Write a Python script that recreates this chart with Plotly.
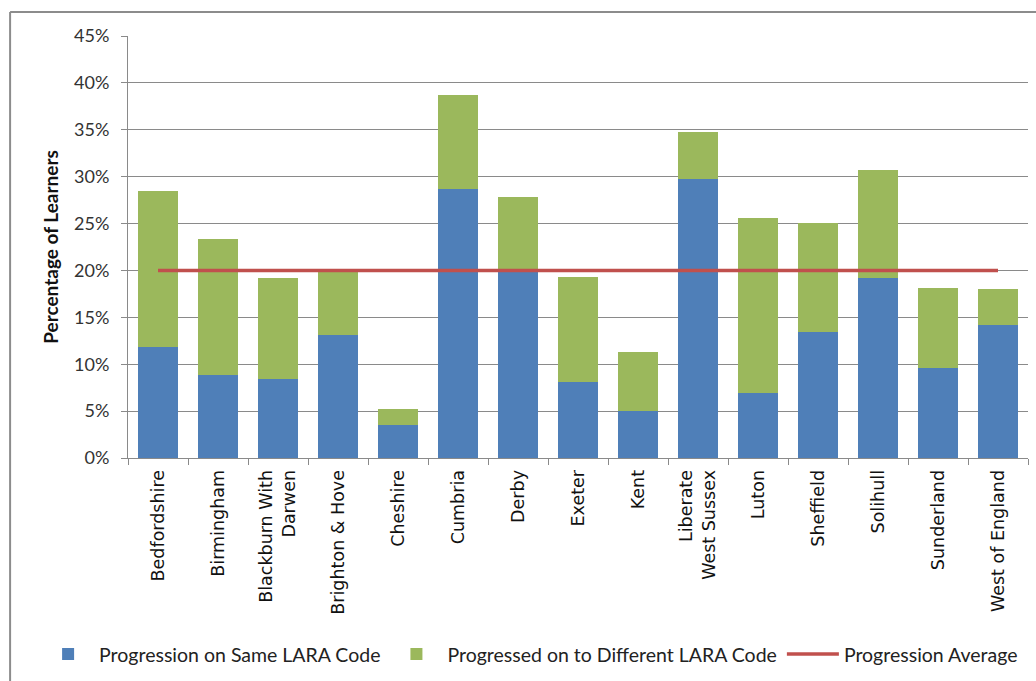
import plotly.graph_objects as go

# Progression by area (percentage of learners)
areas = [
    "Bedfordshire", "Birmingham", "Blackburn With<br>Darwen", "Brighton & Hove",
    "Cheshire", "Cumbria", "Derby", "Exeter", "Kent", "Liberate<br>West Sussex",
    "Luton", "Sheffield", "Solihull", "Sunderland", "West of England",
]
same_code = [11.8, 8.9, 8.4, 13.1, 3.5, 28.7, 19.9, 8.1, 5.0, 29.7, 6.9, 13.4, 19.2, 9.6, 14.2]
different_code = [16.7, 14.5, 10.8, 6.9, 1.7, 10.0, 7.9, 11.2, 6.3, 5.1, 18.7, 11.7, 11.5, 8.5, 3.8]
progression_average = [20.0] * len(areas)

y_ticks = [0, 5, 10, 15, 20, 25, 30, 35, 40, 45]
y_tick_labels = ["0%", "5%", "10%", "15%", "20%", "25%", "30%", "35%", "40%", "45%"]

BLUE = "#4F7FB8"
GREEN = "#9BB85C"
RED = "#C0504D"
GRID = "#8A8A8A"
FONT = "Lato"

fig = go.Figure()
fig.add_trace(go.Bar(
    x=areas, y=same_code, name="Progression on Same LARA Code",
    marker=dict(color=BLUE, line=dict(width=0)),
))
fig.add_trace(go.Bar(
    x=areas, y=different_code, name="Progressed on to Different LARA Code",
    marker=dict(color=GREEN, line=dict(width=0)),
))
fig.add_trace(go.Scatter(
    x=areas, y=progression_average, name="Progression Average",
    mode="lines", line=dict(color=RED, width=3.5),
))

# outer frame of the chart area (left and top edges)
frame = dict(type="line", xref="paper", yref="paper",
             line=dict(color="#8C8C8C", width=2), layer="above")
fig.add_shape(x0=-0.131, x1=-0.131, y0=1.057, y1=-0.53, **frame)
fig.add_shape(x0=-0.131, x1=1.02, y0=1.057, y1=1.057, **frame)

fig.update_layout(
    width=1036, height=681,
    margin=dict(l=128, r=8, t=36, b=221, pad=0),
    barmode="stack", bargap=0.33,
    paper_bgcolor="white", plot_bgcolor="white",
    font=dict(family=FONT, color="#222222", size=16),
    showlegend=True,
    legend=dict(
        orientation="h", x=-0.101, y=-0.465, xanchor="left", yanchor="middle",
        font=dict(family=FONT, size=19.5, color="#222222"),
        traceorder="normal", itemwidth=52,
    ),
    xaxis=dict(
        type="category", tickangle=-90, tickson="boundaries",
        ticks="outside", ticklen=6, tickcolor=GRID,
        showline=True, linecolor=GRID, linewidth=1,
        showgrid=False, tickfont=dict(family="DejaVu Sans", size=17.5, color="#111111"),
        ticklabelstandoff=4,
        range=[-0.5, len(areas) - 0.5],
    ),
    yaxis=dict(
        range=[0, 45], tickvals=y_ticks, ticktext=y_tick_labels,
        ticks="outside", ticklen=6, tickcolor=GRID,
        showline=True, linecolor=GRID, linewidth=1,
        showgrid=True, gridcolor=GRID, gridwidth=1,
        tickfont=dict(family=FONT, size=18, color="#333333"),
        ticklabelstandoff=8,
        title=dict(text="<b>Percentage of Learners</b>",
                   font=dict(family=FONT, size=19, color="#111111"), standoff=10),
        zeroline=False,
    ),
)

fig.write_html("out.html")
